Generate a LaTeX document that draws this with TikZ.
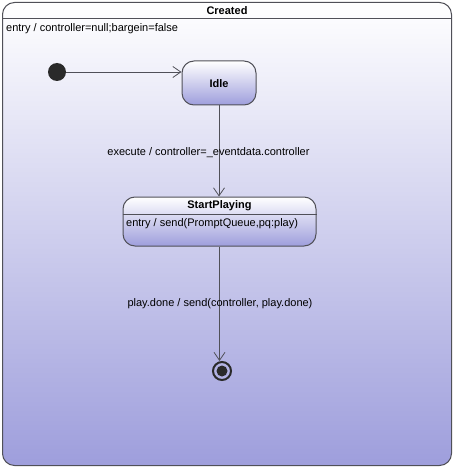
\documentclass[tikz,border=0pt]{standalone}
\usepackage{fontspec}
\setmainfont{Liberation Sans}
\usetikzlibrary{arrows.meta}
\definecolor{Stateblue}{RGB}{158, 158, 220}
\definecolor{Framegray}{RGB}{80, 80, 88}
\definecolor{Dotgray}{RGB}{42, 42, 42}

\tikzset{
  state/.style={draw=Framegray, line width=1, rounded corners=12, top color=white, bottom color=Stateblue},
  trans/.style={draw=Framegray, line width=0.8, -{Straight Barb[length=8pt,width=11pt]}},
  lbl/.style={font=\fontsize{11}{13}\selectfont, inner sep=0},
  title/.style={font=\fontsize{11}{13}\selectfont\bfseries, inner sep=0}
}

\begin{document}
\begin{tikzpicture}[x=1pt, y=-1pt]
\useasboundingbox (0,0) rectangle (454,468);
% outer state
\node[state, anchor=north west, minimum width=449, minimum height=463] (created) at (2,2) {};
\node[title] (createdtitle) at (227,11) {Created};
\draw[Framegray, line width=1] (created.west |- 0,19) -- (created.east |- 0,19);
\node[lbl, anchor=west] (createdentry) at (6,29) {entry / controller=null;bargein=false};
% initial and Idle
\node[circle, fill=Dotgray, minimum size=18, inner sep=0] (init) at (57,72) {};
\node[state, minimum width=74, minimum height=44] (idle) at (219,83) {};
\node[title] (idletitle) at (219,84) {Idle};
\draw[trans] (init) -- (init -| idle.west);
% StartPlaying
\node[state, minimum width=193, minimum height=49] (play) at (219.5,221.5) {};
\node[title] (playtitle) at (219.5,206) {StartPlaying};
\draw[Framegray, line width=1] (play.west |- 0,214) -- (play.east |- 0,214);
\node[lbl, anchor=west] (playentry) at (126,224) {entry / send(PromptQueue,pq:play)};
\draw[trans] (idle.south) -- (idle.south |- play.north);
\node[lbl] (execlbl) at (208.5,153) {execute / controller=\_eventdata.controller};
% final
\node[circle, draw=Dotgray, line width=2, minimum size=18, inner sep=0] (final) at (222,371) {};
\node[circle, fill=Dotgray, minimum size=11, inner sep=0] (finaldot) at (final) {};
\draw[trans] (play.south) -- (play.south |- final.north);
\node[lbl] (donelbl) at (220,304) {play.done / send(controller, play.done)};
\end{tikzpicture}
\end{document}
